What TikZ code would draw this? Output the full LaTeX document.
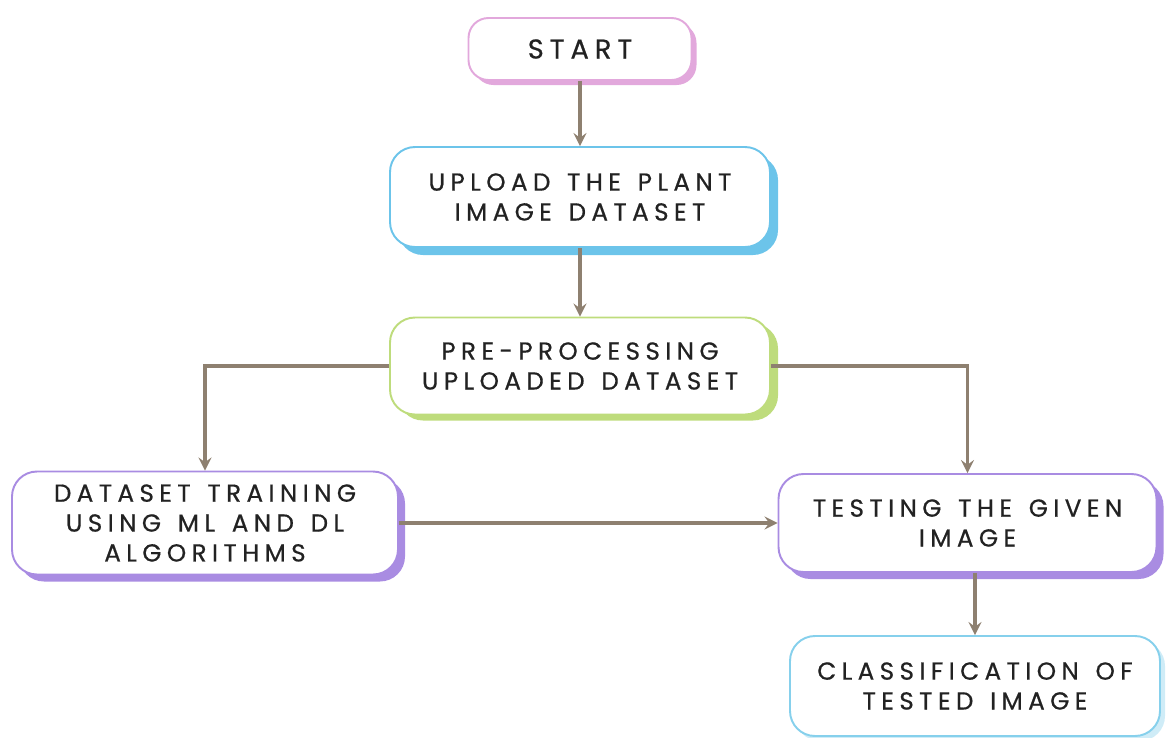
\documentclass[tikz,border=0pt]{standalone}
\usepackage{fontspec}
\setmainfont{Poppins}[LetterSpace=22,WordSpace=1.4,FakeBold=0.6]
\usepackage{tikz}
\usetikzlibrary{shapes.geometric,arrows,shadows}
\definecolor{pinkline}{HTML}{E2A8DC}
\definecolor{blueline}{HTML}{6CC4EA}
\definecolor{greenline}{HTML}{BEDC7C}
\definecolor{purpleline}{HTML}{A98CE2}
\definecolor{cyanline}{HTML}{86D0EC}
\definecolor{arrowcol}{HTML}{8E8070}
\definecolor{textcol}{HTML}{222222}
\tikzstyle{flowbox} = [rectangle, rounded corners=0.5cm, minimum width=7.6cm, minimum height=2cm, text centered, align=center, line width=1.1pt, fill=white, text=textcol, font=\fontsize{14}{17}\selectfont]
\tikzstyle{startstop} = [flowbox, rounded corners=0.4cm, minimum width=4.46cm, minimum height=1.24cm, draw=pinkline, font=\fontsize{15.5}{18}\selectfont, drop shadow={fill=pinkline, opacity=1, shadow xshift=0.1cm, shadow yshift=-0.1cm}]
\tikzstyle{upload} = [flowbox, draw=blueline, drop shadow={fill=blueline, opacity=1, shadow xshift=0.16cm, shadow yshift=-0.16cm}]
\tikzstyle{prep} = [flowbox, minimum height=1.94cm, draw=greenline, drop shadow={fill=greenline, opacity=1, shadow xshift=0.16cm, shadow yshift=-0.12cm}]
\tikzstyle{train} = [flowbox, minimum width=7.72cm, minimum height=2.06cm, draw=purpleline, drop shadow={fill=purpleline, opacity=1, shadow xshift=0.14cm, shadow yshift=-0.14cm}]
\tikzstyle{classify} = [flowbox, minimum width=7.4cm, draw=cyanline, drop shadow={fill=cyanline!40, opacity=1, shadow xshift=0.1cm, shadow yshift=-0.1cm}]
\tikzstyle{arrow} = [line width=2.2pt, draw=arrowcol, ->, >=stealth]

\begin{document}
\begin{tikzpicture}[node distance = 2.96cm]
\useasboundingbox (0,0) rectangle (23.34,-14.74);

\node(start) [startstop] at (11.6,-0.98) {START};
\node(up) [upload, below of=start] {UPLOAD THE PLANT\\IMAGE DATASET};
\node(pre) [prep, below of=up, yshift=-0.42cm] {PRE-PROCESSING\\UPLOADED DATASET};
\node(trn) [train, below of=pre, xshift=-7.5cm, yshift=-0.18cm] {DATASET TRAINING\\USING ML AND DL\\ALGORITHMS};
\node(tst) [train, minimum width=7.56cm, minimum height=1.96cm, below of=pre, xshift=7.75cm, yshift=-0.18cm] {TESTING THE GIVEN\\IMAGE};
\node(cls) [classify, below of=tst, xshift=0.15cm, yshift=-0.3cm] {CLASSIFICATION OF\\TESTED IMAGE};

\draw [arrow] (start) -- (up);
\draw [arrow] (up) -- (pre);
\draw [arrow] (pre.west) -| (trn.north);
\draw [arrow] (pre.east) -| (tst.north);
\draw [arrow] (trn) -- (tst);
\draw [arrow] (cls.north |- tst.south) -- (cls.north);

\end{tikzpicture}
\end{document}
